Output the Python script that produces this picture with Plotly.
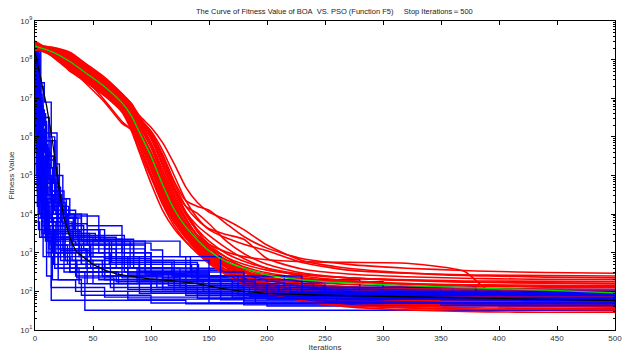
import plotly.graph_objects as go

# ---------------------------------------------------------------------------
# Best-so-far fitness of each independent run, stored as log10(fitness).
# ---------------------------------------------------------------------------

# BOA runs are sampled on a common iteration grid
BOA_ITER = [0, 15, 30, 45, 60, 75, 83, 90, 100, 110, 120, 130, 140, 150, 165, 180,
            200, 230, 270, 320, 370, 390, 440, 500]

BOA_RUNS_LOG10 = [
    [8.35, 8.2, 7.95, 7.63, 7.3, 6.88, 6.55, 6.12, 5.5, 4.76, 4.1, 3.62, 3.25, 2.97, 2.68, 2.48, 2.3, 2.15, 2.05, 1.99, 1.95, 1.94, 1.92, 1.9],
    [8.42, 8.1, 7.75, 7.43, 7.1, 6.68, 6.27, 5.75, 5.0, 4.3, 3.78, 3.38, 3.05, 2.8, 2.5, 2.28, 2.05, 1.86, 1.75, 1.69, 1.65, 1.64, 1.62, 1.6],
    [8.3, 8.28, 8.1, 7.78, 7.45, 7.03, 6.79, 6.45, 6.0, 5.3, 4.6, 4.05, 3.6, 3.3, 2.98, 2.78, 2.6, 2.45, 2.35, 2.29, 2.25, 2.24, 2.22, 2.2],
    [8.45, 8.23, 8.0, 7.68, 7.35, 6.93, 6.66, 6.28, 5.72, 4.98, 4.3, 3.75, 3.35, 3.02, 2.68, 2.43, 2.2, 2.02, 1.9, 1.83, 1.79, 1.78, 1.76, 1.75],
    [8.25, 8.14, 7.83, 7.51, 7.18, 6.76, 6.38, 5.9, 5.2, 4.45, 3.88, 3.45, 3.12, 2.88, 2.65, 2.5, 2.37, 2.26, 2.18, 2.12, 2.09, 2.08, 2.06, 2.05],
    [8.38, 8.32, 8.19, 7.87, 7.54, 7.12, 6.86, 6.5, 6.1, 5.55, 4.85, 4.35, 4.2, 4.1, 3.75, 3.42, 3.12, 2.85, 2.7, 2.6, 2.54, 2.52, 2.49, 2.47],
    [8.32, 8.17, 7.89, 7.57, 7.24, 6.82, 6.46, 6.0, 5.33, 4.55, 3.9, 3.42, 3.05, 2.76, 2.46, 2.22, 2.0, 1.8, 1.66, 1.58, 1.54, 1.53, 1.51, 1.5],
    [8.48, 8.21, 7.97, 7.65, 7.32, 6.9, 6.58, 6.15, 5.52, 4.8, 4.15, 3.7, 3.36, 3.1, 2.82, 2.64, 2.48, 2.35, 2.25, 2.18, 2.14, 2.13, 2.11, 2.1],
    [8.3, 8.25, 8.05, 7.73, 7.4, 6.98, 6.7, 6.32, 5.82, 5.1, 4.42, 3.88, 3.45, 3.12, 2.78, 2.52, 2.3, 2.12, 2.0, 1.93, 1.89, 1.88, 1.86, 1.85],
    [8.4, 8.08, 7.71, 7.39, 7.06, 6.64, 6.17, 5.6, 4.8, 4.1, 3.62, 3.28, 3.0, 2.78, 2.52, 2.32, 2.1, 1.93, 1.82, 1.77, 1.73, 1.72, 1.71, 1.7],
    [8.36, 8.3, 8.15, 7.83, 7.5, 7.08, 6.83, 6.48, 6.1, 5.5, 4.8, 4.2, 3.85, 3.62, 3.47, 3.35, 2.85, 2.58, 2.45, 2.38, 2.34, 2.33, 2.31, 2.3],
    [8.3, 8.19, 7.93, 7.61, 7.28, 6.86, 6.58, 6.2, 5.6, 4.9, 4.25, 3.78, 3.45, 3.22, 3.02, 2.9, 2.82, 2.77, 2.75, 2.73, 2.52, 2.05, 2.02, 2.0],
    [8.33, 8.15, 7.85, 7.45, 6.95, 6.4, 6.18, 5.9, 5.35, 4.6, 3.95, 3.48, 3.12, 2.85, 2.55, 2.33, 2.12, 1.96, 1.87, 1.83, 1.81, 1.81, 1.8, 1.8],
    [8.4, 8.22, 7.7, 7.5, 7.28, 6.86, 6.53, 6.1, 5.45, 4.7, 4.05, 3.6, 3.28, 3.02, 2.74, 2.55, 2.36, 2.2, 2.1, 2.04, 2.0, 1.99, 1.97, 1.95],
    [8.28, 8.22, 7.99, 7.67, 7.34, 6.92, 6.61, 6.2, 5.6, 4.9, 4.22, 3.7, 3.3, 2.98, 2.62, 2.36, 2.12, 1.92, 1.78, 1.71, 1.68, 1.67, 1.66, 1.65],
    [8.44, 8.13, 7.8, 7.48, 7.15, 6.73, 6.36, 5.88, 5.15, 4.42, 3.86, 3.45, 3.15, 2.93, 2.72, 2.58, 2.44, 2.33, 2.25, 2.2, 2.17, 2.17, 2.16, 2.15],
    [8.35, 8.29, 8.13, 7.81, 7.48, 7.06, 6.8, 6.45, 6.05, 5.45, 4.7, 4.05, 3.55, 3.18, 2.75, 2.42, 2.12, 1.86, 1.7, 1.62, 1.58, 1.57, 1.56, 1.55],
    [8.37, 8.31, 8.17, 7.85, 7.52, 7.1, 6.87, 6.55, 6.25, 5.85, 5.3, 4.7, 4.3, 4.05, 3.85, 3.6, 3.2, 2.8, 2.6, 2.48, 2.41, 2.4, 2.37, 2.35],
    [8.3, 8.18, 7.91, 7.59, 7.26, 6.84, 6.5, 6.05, 5.4, 4.65, 4.0, 3.55, 3.22, 2.96, 2.7, 2.52, 2.35, 2.2, 2.11, 2.05, 2.02, 2.02, 2.01, 2.0],
    [8.42, 8.26, 8.07, 7.75, 7.42, 7.0, 6.74, 6.38, 5.85, 5.15, 4.45, 3.9, 3.42, 3.05, 2.62, 2.3, 2.0, 1.76, 1.6, 1.52, 1.48, 1.47, 1.46, 1.46],
    [8.36, 8.16, 7.86, 7.54, 7.21, 6.79, 6.42, 5.95, 5.28, 4.52, 3.92, 3.45, 3.1, 2.82, 2.52, 2.3, 2.08, 1.92, 1.84, 1.8, 1.79, 1.79, 1.78, 1.78],
    [8.26, 8.24, 8.03, 7.71, 7.38, 6.96, 6.68, 6.3, 5.75, 5.02, 4.35, 3.84, 3.45, 3.16, 2.88, 2.7, 2.55, 2.43, 2.35, 2.3, 2.27, 2.27, 2.26, 2.25],
    [8.34, 8.3, 8.16, 7.84, 7.51, 7.09, 6.84, 6.5, 6.15, 5.65, 5.0, 4.35, 3.9, 3.6, 3.38, 3.22, 3.05, 2.75, 2.55, 2.47, 2.43, 2.42, 2.41, 2.4],
    [8.47, 8.2, 7.94, 7.62, 7.29, 6.87, 6.53, 6.08, 5.45, 4.7, 4.05, 3.58, 3.2, 2.9, 2.55, 2.28, 2.02, 1.82, 1.7, 1.66, 1.64, 1.63, 1.63, 1.62],
    [8.32, 8.27, 8.08, 7.76, 7.43, 7.01, 6.75, 6.4, 5.95, 5.25, 4.52, 3.98, 3.55, 3.22, 2.88, 2.62, 2.38, 2.18, 2.05, 1.98, 1.95, 1.94, 1.93, 1.92],
    [8.3, 8.1, 7.78, 7.35, 6.9, 6.35, 6.2, 6.0, 5.3, 4.55, 3.95, 3.5, 3.18, 2.93, 2.67, 2.5, 2.34, 2.2, 2.12, 2.08, 2.06, 2.06, 2.05, 2.05],
    [8.39, 8.12, 7.78, 7.46, 7.13, 6.71, 6.31, 5.8, 5.05, 4.35, 3.8, 3.38, 3.05, 2.8, 2.5, 2.26, 2.03, 1.86, 1.76, 1.71, 1.69, 1.69, 1.68, 1.68],
    [8.33, 8.28, 8.11, 7.79, 7.46, 7.04, 6.81, 6.48, 6.02, 5.35, 4.62, 4.05, 3.7, 3.45, 3.12, 2.85, 2.6, 2.4, 2.28, 2.2, 2.16, 2.15, 2.13, 2.12],
    [8.27, 8.22, 7.98, 7.66, 7.33, 6.91, 6.58, 6.15, 5.55, 4.82, 4.15, 3.66, 3.28, 2.98, 2.64, 2.4, 2.16, 1.96, 1.83, 1.77, 1.74, 1.73, 1.72, 1.72],
    [8.45, 8.16, 7.87, 7.55, 7.22, 6.8, 6.47, 6.03, 5.36, 4.6, 3.96, 3.5, 3.16, 2.9, 2.62, 2.42, 2.22, 2.05, 1.95, 1.9, 1.88, 1.87, 1.87, 1.86],
    [8.36, 8.3, 8.14, 7.82, 7.49, 7.07, 6.79, 6.42, 6.05, 5.45, 4.7, 4.2, 4.02, 3.75, 3.3, 2.98, 2.7, 2.48, 2.35, 2.28, 2.24, 2.23, 2.21, 2.2],
    [8.36, 8.09, 7.73, 7.41, 7.08, 6.66, 6.21, 5.65, 4.95, 4.25, 3.7, 3.3, 2.98, 2.72, 2.42, 2.18, 1.95, 1.76, 1.63, 1.57, 1.54, 1.53, 1.53, 1.52],
]

# Mean BOA curve (green)
BOA_MEAN_LOG10 = [8.35, 8.2, 7.95, 7.63, 7.3, 6.88, 6.55, 6.12, 5.5, 4.76, 4.12, 3.67, 3.33, 3.05,
                  2.77, 2.6, 2.43, 2.3, 2.22, 2.15, 2.1, 2.08, 2.03, 1.96]

# PSO runs: best-so-far changes as (iteration, log10 fitness) step points
PSO_RUNS = [
    [(0, 8.15), (2, 6.8), (4, 5.2), (7, 4.1), (12, 3.5), (25, 2.9), (60, 2.4), (110, 2.1), (180, 1.9), (300, 1.8), (500, 1.8)],
    [(0, 8.1), (1, 7.2), (3, 5.9), (6, 4.6), (10, 3.8), (18, 3.2), (40, 2.7), (90, 2.3), (150, 2.0), (260, 1.75), (500, 1.75)],
    [(0, 8.2), (3, 6.1), (5, 4.4), (9, 3.3), (20, 2.6), (45, 2.2), (130, 1.95), (240, 1.7), (500, 1.7)],
    [(0, 8.05), (2, 7.4), (8, 6.9), (14, 6.1), (19, 5.0), (24, 4.1), (35, 3.4), (70, 2.8), (120, 2.4), (190, 2.0), (350, 1.85), (500, 1.85)],
    [(0, 8.15), (4, 6.6), (9, 5.5), (16, 5.0), (20, 4.0), (28, 3.6), (55, 3.0), (100, 2.6), (160, 2.2), (250, 1.95), (500, 1.9)],
    [(0, 7.9), (1, 5.6), (3, 4.3), (8, 3.7), (30, 3.45), (77, 3.2), (85, 2.6), (140, 2.2), (210, 1.85), (500, 1.8)],
    [(0, 8.1), (2, 5.2), (5, 3.9), (10, 3.0), (20, 2.3), (40, 1.9), (100, 1.7), (200, 1.62), (500, 1.6)],
    [(0, 8.0), (1, 6.4), (4, 4.8), (10, 2.4), (14, 1.77), (130, 1.68), (500, 1.65)],
    [(0, 8.2), (3, 7.0), (6, 5.8), (11, 4.5), (16, 4.0), (45, 3.7), (75, 3.0), (100, 2.9), (134, 2.55), (180, 2.3), (280, 2.05), (500, 1.95)],
    [(0, 8.1), (2, 6.0), (6, 4.0), (12, 3.6), (30, 3.25), (100, 3.07), (110, 2.7), (141, 2.3), (200, 2.1), (320, 1.9), (500, 1.88)],
    [(0, 6.3), (2, 4.6), (6, 3.8), (15, 3.0), (35, 2.4), (80, 2.05), (150, 1.85), (300, 1.72), (500, 1.7)],
    [(0, 8.15), (1, 6.9), (5, 5.1), (8, 4.2), (13, 3.9), (22, 3.4), (50, 2.9), (90, 2.55), (170, 2.25), (300, 2.0), (500, 1.92)],
    [(0, 8.0), (3, 5.7), (7, 4.7), (12, 3.1), (25, 2.5), (43, 1.51), (500, 1.5)],
    [(0, 8.12), (2, 6.3), (4, 5.0), (9, 4.0), (20, 3.3), (35, 3.2), (77, 2.5), (120, 2.2), (175, 1.9), (300, 1.78), (500, 1.76)],
    [(0, 4.3), (3, 3.9), (10, 3.5), (30, 3.0), (60, 2.6), (110, 2.3), (170, 2.1), (260, 1.85), (500, 1.82)],
    [(0, 8.1), (4, 6.0), (10, 4.8), (18, 4.0), (40, 3.6), (60, 2.9), (95, 2.45), (150, 2.1), (230, 1.9), (500, 1.86)],
    [(0, 7.5), (2, 5.5), (5, 4.3), (12, 3.4), (26, 2.8), (50, 2.2), (100, 1.95), (190, 1.7), (400, 1.6), (500, 1.58)],
    [(0, 8.18), (2, 7.5), (5, 6.2), (8, 5.6), (12, 4.9), (18, 4.3), (26, 3.9), (40, 3.3), (64, 2.7), (110, 2.35), (200, 2.0), (330, 1.85), (500, 1.82)],
    [(0, 8.05), (1, 5.0), (3, 3.6), (7, 2.9), (15, 2.3), (35, 2.0), (80, 1.8), (180, 1.65), (500, 1.62)],
    [(0, 8.15), (3, 6.5), (7, 5.6), (13, 4.6), (20, 3.9), (33, 3.3), (60, 2.85), (100, 2.45), (150, 2.2), (230, 2.0), (400, 1.9), (500, 1.9)],
    [(0, 5.3), (2, 4.2), (6, 3.5), (14, 2.9), (30, 2.5), (70, 2.25), (120, 2.0), (220, 1.8), (500, 1.75)],
    [(0, 8.1), (2, 6.7), (6, 5.3), (10, 4.5), (17, 4.1), (24, 3.75), (45, 3.2), (75, 2.7), (135, 2.35), (200, 2.05), (350, 1.88), (500, 1.85)],
    [(0, 8.2), (5, 6.4), (10, 5.9), (18, 4.7), (22, 3.6), (38, 3.0), (65, 2.5), (115, 2.15), (180, 1.92), (300, 1.74), (500, 1.72)],
    [(0, 7.8), (1, 6.1), (3, 4.9), (6, 3.7), (13, 3.2), (28, 2.7), (55, 2.3), (100, 2.0), (160, 1.78), (500, 1.72)],
    [(0, 8.15), (2, 6.9), (4, 6.0), (9, 5.0), (14, 4.4), (30, 3.95), (55, 3.3), (95, 2.75), (140, 2.4), (215, 2.1), (360, 1.92), (500, 1.9)],
    [(0, 8.05), (1, 7.6), (3, 6.3), (5, 4.9), (10, 3.8), (22, 3.05), (48, 2.6), (90, 2.3), (160, 2.05), (270, 1.83), (500, 1.8)],
    [(0, 3.8), (4, 3.4), (12, 2.9), (30, 2.5), (65, 2.1), (140, 1.9), (250, 1.72), (500, 1.68)],
    [(0, 8.1), (3, 5.8), (7, 4.3), (10, 3.6), (17, 2.6), (38, 2.2), (90, 1.95), (180, 1.75), (350, 1.64), (500, 1.62)],
    [(0, 8.15), (2, 7.1), (6, 6.5), (12, 6.0), (17, 5.3), (21, 4.4), (27, 3.7), (42, 3.1), (70, 2.6), (120, 2.25), (190, 1.95), (300, 1.82), (500, 1.8)],
    [(0, 7.0), (2, 5.8), (4, 4.4), (8, 3.5), (18, 3.0), (40, 2.7), (75, 2.35), (125, 2.1), (185, 1.87), (420, 1.76), (500, 1.76)],
    [(0, 8.0), (2, 6.0), (5, 4.4), (11, 3.3), (22, 2.8), (36, 2.5), (72, 2.2), (130, 1.9), (260, 1.7), (500, 1.68)],
    [(0, 8.2), (3, 6.8), (7, 5.9), (14, 5.2), (19, 4.6), (25, 4.0), (34, 3.6), (56, 3.35), (85, 2.9), (130, 2.5), (180, 2.2), (240, 2.0), (500, 1.93)],
    [(0, 8.1), (1, 6.2), (2, 4.9), (5, 4.3), (15, 3.35), (75, 3.2), (95, 2.8), (150, 2.3), (230, 2.0), (500, 1.86)],
    [(0, 8.0), (2, 5.4), (4, 4.0), (9, 3.55), (40, 3.3), (125, 2.9), (160, 2.4), (230, 2.1), (380, 1.9), (500, 1.88)],
    [(0, 8.15), (1, 7.0), (2, 5.9), (4, 5.1), (7, 3.9), (16, 3.0), (30, 2.6), (80, 2.4), (140, 2.2), (200, 1.95), (500, 1.82)],
    [(0, 7.6), (1, 5.9), (3, 4.5), (6, 3.4), (14, 2.1), (60, 1.85), (150, 1.7), (500, 1.6)],
    [(0, 8.05), (2, 6.5), (5, 5.5), (8, 4.9), (14, 4.2), (26, 3.5), (52, 3.3), (82, 2.6), (125, 2.3), (190, 2.05), (300, 1.9), (500, 1.88)],
    [(0, 4.8), (3, 4.0), (8, 3.6), (20, 3.1), (45, 2.6), (90, 2.2), (160, 1.9), (350, 1.78), (500, 1.75)],
    [(0, 8.1), (3, 6.2), (6, 4.6), (10, 3.9), (22, 3.35), (38, 2.9), (60, 2.3), (110, 2.05), (200, 1.8), (500, 1.74)],
    [(0, 8.2), (1, 7.8), (4, 7.3), (7, 6.5), (12, 5.4), (17, 4.5), (23, 3.8), (32, 3.2), (48, 2.8), (90, 2.5), (140, 2.2), (220, 1.97), (500, 1.9)],
    [(0, 8.1), (2, 7.2), (4, 6.6), (9, 6.1), (13, 5.5), (16, 4.8), (21, 4.2), (29, 3.5), (47, 2.9), (80, 2.45), (130, 2.15), (210, 1.92), (500, 1.84)],
    [(0, 8.2), (1, 7.4), (3, 6.4), (6, 5.7), (11, 5.2), (15, 4.6), (19, 3.4), (32, 2.8), (58, 2.4), (105, 2.1), (170, 1.85), (500, 1.7)],
    [(0, 8.05), (2, 6.6), (4, 5.9), (7, 5.3), (10, 4.4), (14, 3.8), (24, 3.1), (44, 2.6), (88, 2.25), (145, 2.0), (260, 1.8), (500, 1.78)],
    [(0, 8.15), (3, 7.3), (5, 6.7), (8, 6.3), (10, 5.7), (12, 4.8), (15, 4.3), (22, 3.9), (37, 3.3), (66, 2.75), (118, 2.4), (175, 2.1), (280, 1.9), (500, 1.86)],
    [(0, 7.3), (1, 6.5), (3, 5.4), (6, 4.5), (9, 3.5), (16, 2.7), (36, 2.35), (68, 2.0), (140, 1.82), (500, 1.74)],
    [(0, 8.1), (2, 7.0), (5, 6.0), (9, 5.3), (13, 4.3), (19, 3.7), (26, 3.4), (60, 3.1), (95, 2.5), (150, 2.15), (250, 1.95), (500, 1.9)],
]

# Mean PSO curve (black)
PSO_MEAN_ITER = [0, 5, 10, 15, 20, 25, 30, 35, 40, 50, 60, 70, 80, 100, 120, 140, 160,
                 180, 200, 250, 300, 350, 400, 450, 500]
PSO_MEAN_LOG10 = [8.2, 7.5, 6.8, 5.9, 4.8, 3.9, 3.4, 3.05, 2.92, 2.7, 2.55, 2.45, 2.4,
                  2.32, 2.27, 2.2, 2.08, 2.0, 1.95, 1.9, 1.87, 1.84, 1.81, 1.78, 1.76]

Y_DECADES = list(range(1, 10))
X_TICKS = list(range(0, 501, 50))

TITLE = ("The Curve of Fitness Value of BOA\u00a0\u00a0VS. PSO (Function F5)"
         "\u00a0\u00a0\u00a0\u00a0\u00a0Stop Iterations\uff1d500")

FONT = "Liberation Sans, Arial, Helvetica, sans-serif"

fig = go.Figure()


def to_value(v):
    return 10 ** v


n = max(len(PSO_RUNS), len(BOA_RUNS_LOG10))
for i in range(n):
    if i < len(PSO_RUNS):
        run = PSO_RUNS[i]
        fig.add_trace(go.Scatter(
            x=[p[0] for p in run], y=[to_value(p[1]) for p in run],
            mode="lines", line=dict(color="#0000FF", width=1.4, shape="hv"),
            hoverinfo="skip", showlegend=False))
    if i < len(BOA_RUNS_LOG10):
        fig.add_trace(go.Scatter(
            x=BOA_ITER, y=[to_value(v) for v in BOA_RUNS_LOG10[i]],
            mode="lines", line=dict(color="#FF0000", width=1.6, shape="spline",
                                    smoothing=0.6),
            hoverinfo="skip", showlegend=False))

fig.add_trace(go.Scatter(
    x=BOA_ITER, y=[to_value(v) for v in BOA_MEAN_LOG10],
    mode="lines", line=dict(color="#00DD00", width=1.3, shape="spline", smoothing=0.6),
    hoverinfo="skip", showlegend=False))
fig.add_trace(go.Scatter(
    x=PSO_MEAN_ITER, y=[to_value(v) for v in PSO_MEAN_LOG10],
    mode="lines", line=dict(color="#000000", width=1.3),
    hoverinfo="skip", showlegend=False))

minor_vals = [m * 10 ** k for k in Y_DECADES[:-1] for m in range(2, 10)]

fig.update_layout(
    width=625, height=354,
    margin=dict(l=35, r=3, t=21, b=24),
    paper_bgcolor="white", plot_bgcolor="white",
    font=dict(family=FONT, size=8, color="#333333"),
    title=dict(text=TITLE, x=0.535, xanchor="center", y=0.968, yanchor="middle",
               font=dict(family=FONT, size=7.5, color="#222222")),
    xaxis=dict(
        range=[0, 500], tickvals=X_TICKS, ticks="inside", ticklen=4,
        tickcolor="black", showline=True, linecolor="black", linewidth=1,
        mirror="ticks", showgrid=False, zeroline=False,
        ticklabeloverflow="allow",
        title=dict(text="Iterations", standoff=2, font=dict(size=8)),
        tickfont=dict(size=8)),
    yaxis=dict(
        type="log", range=[1, 9],
        tickvals=[10 ** k for k in Y_DECADES],
        ticktext=["10<sup>%d</sup>" % k for k in Y_DECADES],
        ticks="inside", ticklen=4, tickcolor="black",
        showline=True, linecolor="black", linewidth=1, mirror="ticks",
        showgrid=False, zeroline=False,
        minor=dict(tickvals=minor_vals, ticks="inside", ticklen=2,
                   tickcolor="black", showgrid=False),
        title=dict(text="Fitness Value", standoff=4, font=dict(size=8)),
        tickfont=dict(size=8)),
)

fig.write_html("out.html")
